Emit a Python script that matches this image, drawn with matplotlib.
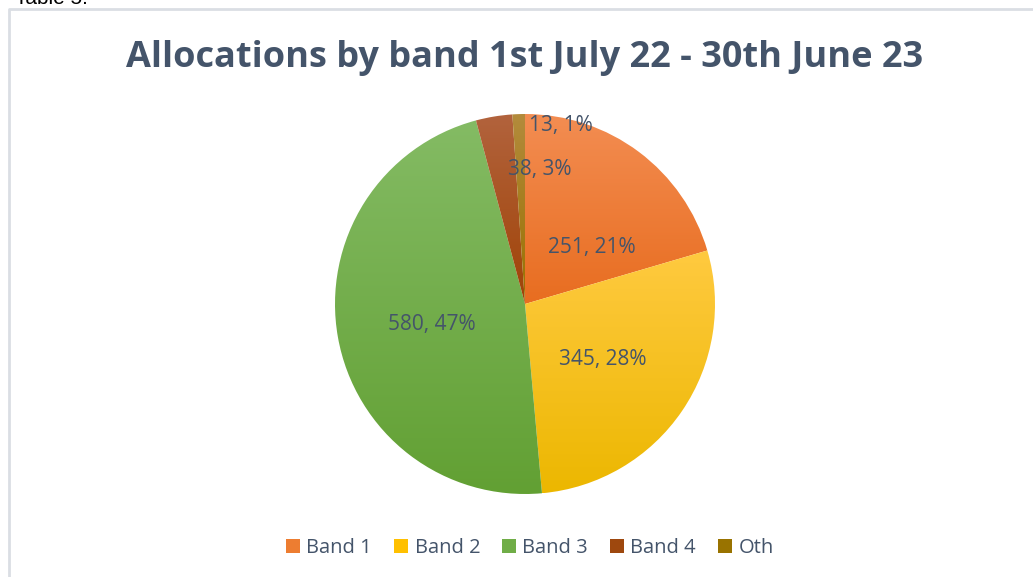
import numpy as np
import matplotlib.pyplot as plt
from matplotlib.patches import Patch
from matplotlib.lines import Line2D
from matplotlib.colors import LinearSegmentedColormap

# data
bands = ['Band 1', 'Band 2', 'Band 3', 'Band 4', 'Oth']
allocations = [251, 345, 580, 38, 13]
percents = [21, 28, 47, 3, 1]   # as printed on the chart labels

# gradient colours (top, bottom) per slice, plus the legend colour
top_colors = ['#F38D52', '#FFCA40', '#84BB64', '#B2633D', '#B38B3C']
bottom_colors = ['#E86D20', '#ECB700', '#62A033', '#A04306', '#997000']
legend_colors = ['#ED7D31', '#FFC000', '#70AD47', '#9E480E', '#997300']

# where Excel put each data label, in pie-radius units
label_pos = [(0.35, 0.30), (0.41, -0.29), (-0.49, -0.11), (0.08, 0.71), (0.19, 0.94)]

text_col = '#44546A'
W, H = 1033, 577

fig = plt.figure(figsize=(W / 100, H / 100), dpi=100)
fig.patch.set_facecolor('white')

ax = fig.add_axes([335 / W, 83 / H, 380 / W, 380 / H])
wedges, _ = ax.pie(allocations, startangle=90, counterclock=False, radius=1,
                   colors=legend_colors, wedgeprops=dict(linewidth=0))
ax.set_aspect('equal')
ax.axis('off')

# vertical gradient fill, clipped to each wedge
for w, c0, c1 in zip(wedges, top_colors, bottom_colors):
    bb = w.get_path().get_extents()
    cmap = LinearSegmentedColormap.from_list('g', [c1, c0])
    grad = np.linspace(0, 1, 256).reshape(-1, 1)
    im = ax.imshow(grad, cmap=cmap, origin='lower', aspect='auto',
                   extent=[bb.x0, bb.x1, bb.y0, bb.y1], zorder=2)
    im.set_clip_path(w)
    w.set_facecolor('none')
ax.set_xlim(-1, 1)
ax.set_ylim(-1, 1)

for v, p, (lx, ly) in zip(allocations, percents, label_pos):
    ax.text(lx, ly, f'{v}, {p}%', ha='center', va='center',
            fontsize=15, color=text_col, family='Open Sans', zorder=5)

fig.text(525 / W, 1 - 58 / H, 'Allocations by band 1st July 22 - 30th June 23',
         ha='center', va='center', fontsize=26, fontweight='bold',
         color=text_col, family='Open Sans')

handles = [Patch(facecolor=c, edgecolor='none') for c in legend_colors]
fig.legend(handles, bands, loc='center', bbox_to_anchor=(530 / W, 1 - 548 / H), ncol=5,
           frameon=False, handlelength=0.7, handleheight=0.7, handletextpad=0.3,
           columnspacing=1.1, prop=dict(family='Open Sans', size=14.5),
           labelcolor=text_col)

# chart border (cut off on the right and bottom) and the caption above it
fig.add_artist(Line2D([9 / W, 9 / W, 1], [0, 1 - 9 / H, 1 - 9 / H],
                      transform=fig.transFigure, color='#DADEE4', lw=2))
fig.text(15 / W, 1 - 4 / H, 'Table 5:', ha='left', va='baseline', fontsize=15,
         color='black', family='Liberation Sans')

fig.savefig('out.png', dpi=100, facecolor='white')
